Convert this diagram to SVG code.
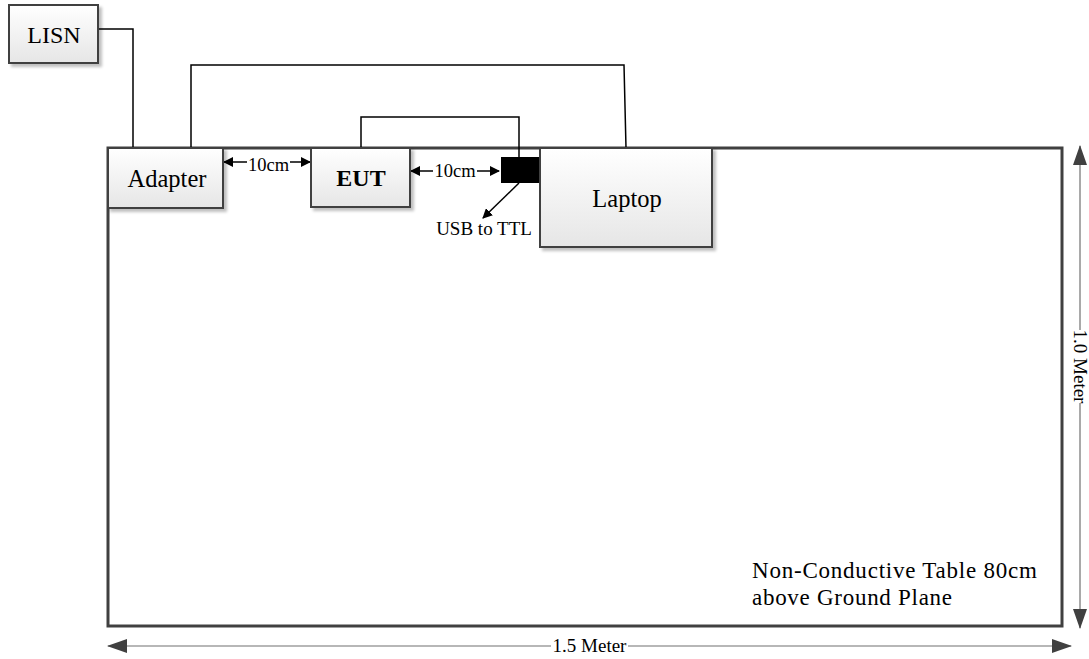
<svg xmlns="http://www.w3.org/2000/svg" width="1089" height="659" viewBox="0 0 1089 659">
<defs>
<linearGradient id="g" x1="0" y1="0" x2="0" y2="1">
<stop offset="0" stop-color="#ffffff"/>
<stop offset="1" stop-color="#e6e6e6"/>
</linearGradient>
<filter id="sh" x="-10%" y="-10%" width="130%" height="130%">
<feGaussianBlur in="SourceAlpha" stdDeviation="1.5"/>
<feOffset dx="3" dy="3"/>
<feComponentTransfer><feFuncA type="linear" slope="0.25"/></feComponentTransfer>
<feMerge><feMergeNode/><feMergeNode in="SourceGraphic"/></feMerge>
</filter>
<marker id="ah" markerWidth="10" markerHeight="10" refX="9" refY="5" orient="auto" markerUnits="userSpaceOnUse">
<path d="M0,0 L10,5 L0,10 Z" fill="#000"/>
</marker>
<marker id="dh" markerWidth="20" markerHeight="14" refX="19" refY="7" orient="auto" markerUnits="userSpaceOnUse">
<path d="M0,0 L20,7 L0,14 Z" fill="#404040"/>
</marker>
</defs>
<style>
.box{fill:url(#g);stroke:#404040;stroke-width:2;filter:url(#sh)}
.t{font-family:"Liberation Serif","Times New Roman",serif;fill:#000}
.w{fill:none;stroke:#000;stroke-width:1.5}
.a{fill:none;stroke:#000;stroke-width:1.5;marker-end:url(#ah)}
.dim{fill:none;stroke:#707070;stroke-width:1.2;marker-end:url(#dh)}
</style>
<g id="table">
<rect x="108" y="148" width="954" height="478" fill="#fff" stroke="#404040" stroke-width="3"/>
<text class="t" x="752" y="578" font-size="23" textLength="285" lengthAdjust="spacing">Non-Conductive Table 80cm</text>
<text class="t" x="752" y="605" font-size="23" textLength="200" lengthAdjust="spacing">above Ground Plane</text>
</g>
<g id="connectors">
<polyline class="w" points="98,29 133,29 133,148"/>
<polyline class="w" points="191,148 191,65 624,65 626,148"/>
<polyline class="w" points="361,148 361,117 519,117 519,157"/>
<line class="a" x1="519" y1="183" x2="483" y2="218"/>
<line class="a" x1="247" y1="162" x2="224" y2="162"/>
<line class="a" x1="290" y1="162" x2="310" y2="162"/>
<line class="a" x1="433" y1="171" x2="411" y2="171"/>
<line class="a" x1="477" y1="171" x2="499" y2="171"/>
<text class="t" x="268.5" y="171" font-size="18.5" text-anchor="middle">10cm</text>
<text class="t" x="455" y="177" font-size="18.5" text-anchor="middle">10cm</text>
<text class="t" x="484" y="235" font-size="19" text-anchor="middle">USB to TTL</text>
</g>
<g id="dimensions">
<line class="dim" x1="551" y1="646" x2="108" y2="646"/>
<line class="dim" x1="628" y1="646" x2="1071" y2="646"/>
<text class="t" x="589.5" y="652" font-size="19" text-anchor="middle">1.5 Meter</text>
<line class="dim" x1="1080" y1="330" x2="1080" y2="146"/>
<line class="dim" x1="1080" y1="403" x2="1080" y2="628"/>
<text class="t" x="0" y="0" font-size="19" text-anchor="middle" transform="translate(1074,366.5) rotate(90)">1.0 Meter</text>
</g>
<g id="lisn">
<rect class="box" x="9" y="5" width="89" height="58"/>
<text class="t" x="54" y="43" font-size="24" text-anchor="middle">LISN</text>
</g>
<g id="adapter">
<rect class="box" x="108" y="148" width="115" height="60"/>
<text class="t" x="167" y="187" font-size="24.5" text-anchor="middle">Adapter</text>
</g>
<g id="eut">
<rect class="box" x="311" y="148" width="99" height="59"/>
<text class="t" x="361" y="186" font-size="24" font-weight="bold" text-anchor="middle">EUT</text>
</g>
<g id="usb">
<rect x="501" y="157" width="39" height="26" fill="#000"/>
</g>
<g id="laptop">
<rect class="box" x="540" y="148" width="172" height="99"/>
<text class="t" x="627" y="207" font-size="24.5" text-anchor="middle">Laptop</text>
</g>
</svg>
